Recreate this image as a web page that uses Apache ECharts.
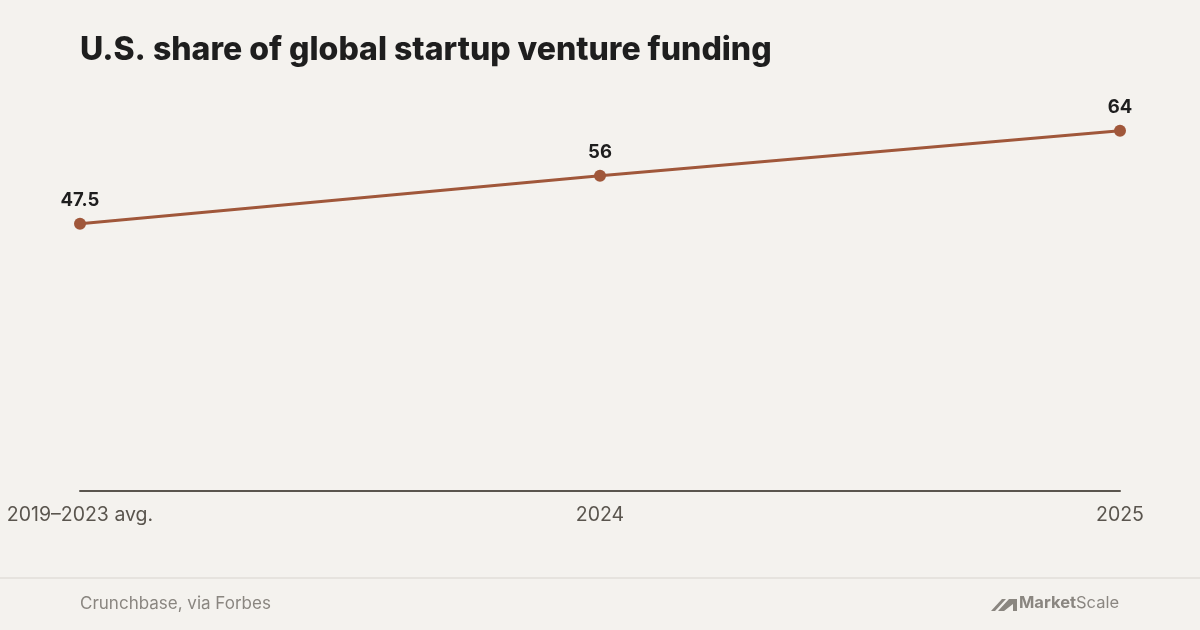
<!DOCTYPE html>
<html><head><meta charset="utf-8">
<script src="https://cdn.jsdelivr.net/npm/echarts@6/dist/echarts.min.js"></script>
<style>html,body{margin:0;padding:0;background:#f4f2ee;}#c{width:1200px;height:630px;}</style>
</head><body><div id="c"></div>
<script>
const categories = ['2019–2023 avg.', '2024', '2025'];
const usShare = [47.5, 56, 64];
const titleText = 'U.S. share of global startup venture funding';
const sourceText = 'Crunchbase, via Forbes';

const chart = echarts.init(document.getElementById('c'), null, {renderer:'canvas'});
chart.setOption({
  backgroundColor:'#f4f2ee',
  animation:false,
  title:{text:titleText,left:75,top:29,textStyle:{fontFamily:'Inter',fontWeight:800,fontSize:32,color:'#1e1e1e'}},
  grid:{left:80,right:80,top:97,bottom:139,containLabel:false},
  xAxis:{type:'category',data:categories,boundaryGap:false,
    axisLine:{lineStyle:{color:'#5a554e',width:2}},axisTick:{show:false},
    axisLabel:{fontFamily:'Inter',fontSize:19.5,color:'#5a554e',margin:14}},
  yAxis:{type:'value',min:0,max:70,show:false,splitLine:{show:false}},
  series:[{type:'line',data:usShare,symbol:'circle',symbolSize:12,
    lineStyle:{color:'#a0573a',width:3},itemStyle:{color:'#a0573a'},
    label:{show:true,position:'top',distance:8,fontFamily:'Inter',fontWeight:700,fontSize:18.5,color:'#1e1e1e'}}],
  graphic:[
    {type:'rect',shape:{x:0,y:577,width:1200,height:2},style:{fill:'#e6e3de'}},
    {type:'text',left:80,top:595,style:{text:sourceText,font:'17px Inter',fill:'#8a8680'}},
    {type:'polygon',shape:{points:[[991,611],[1002,599],[1006,599],[995,611]]},style:{fill:'#8a8680'}},
    {type:'polygon',shape:{points:[[998,611],[1009,599],[1017,599],[1017,611],[1013,611],[1013,604],[1004,611]]},style:{fill:'#8a8680'}},
    {type:'text',left:1019,top:595,style:{rich:{a:{font:'bold 16.5px Inter',fill:'#8a8680'},b:{font:'16.5px Inter',fill:'#8a8680'}},text:'{a|Market}{b|Scale}'}}
  ]
});
</script></body></html>
